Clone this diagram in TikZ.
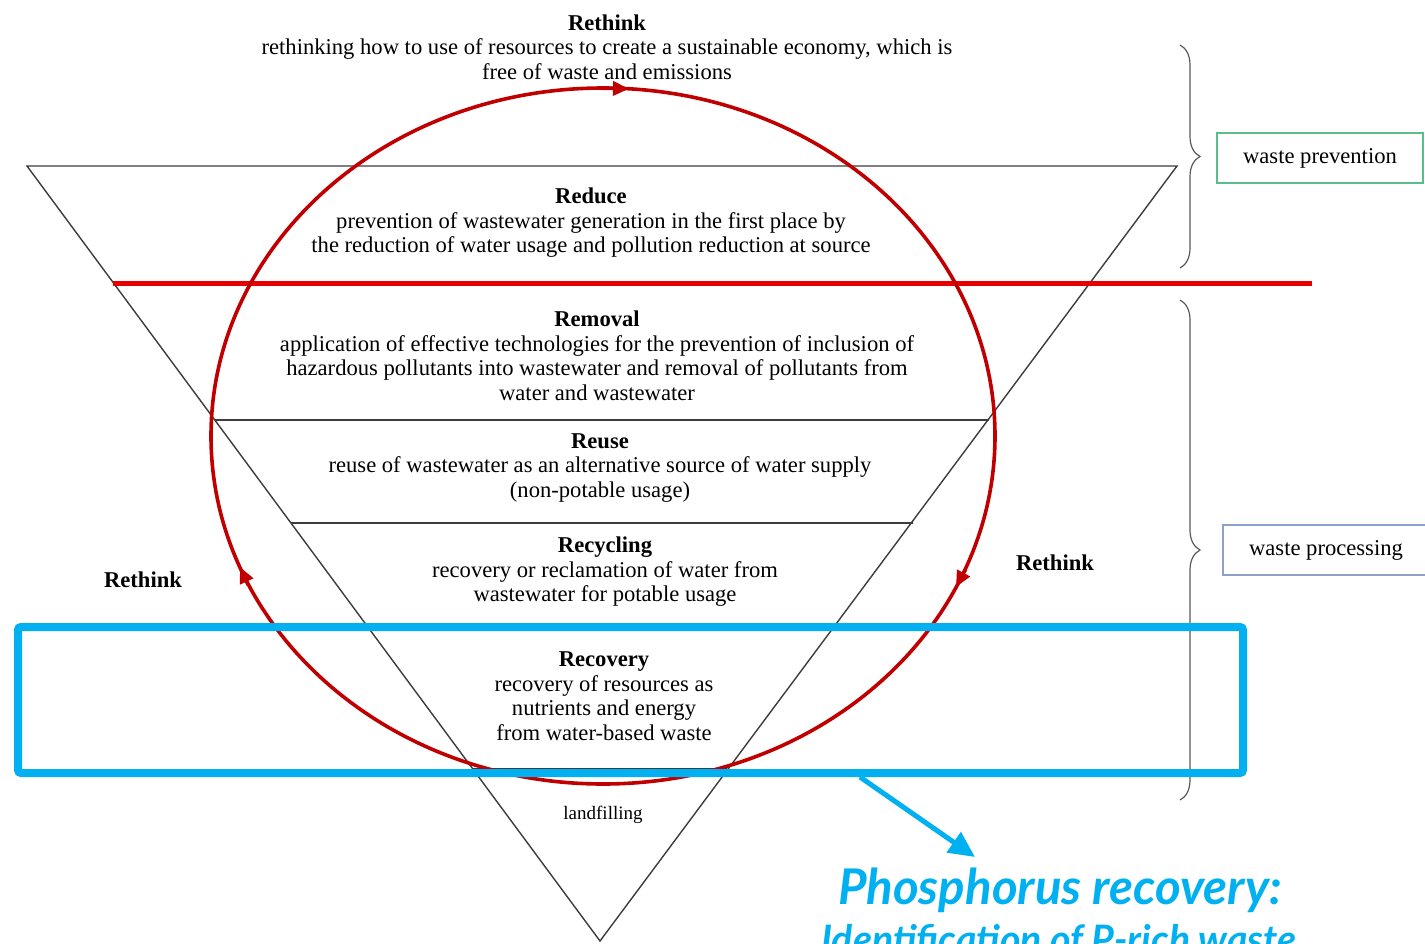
\documentclass[tikz,border=0pt]{standalone}
\usepackage{fontspec}
\setmainfont{Liberation Serif}
\newfontfamily\bluefont{Lato}
\usetikzlibrary{arrows.meta,decorations.pathreplacing,calc}
\definecolor{cyanb}{RGB}{0,176,240}
\definecolor{darkred}{RGB}{192,0,0}
\definecolor{brightred}{RGB}{232,0,0}
\definecolor{tricol}{RGB}{60,60,60}
\definecolor{greenbox}{RGB}{90,190,140}
\definecolor{bluegray}{RGB}{140,160,200}
\begin{document}
\begin{tikzpicture}[x=0.5pt,y=-0.5pt,
  tri/.style={draw=tricol,line width=0.7pt},
  txt/.style={font=\fontsize{11.3}{12.25}\selectfont,align=center,inner sep=0pt},
  redcirc/.style={draw=darkred,line width=1.8pt},
  redtip/.style={draw=darkred,line width=1.8pt,-{Triangle[length=8pt,width=7pt]}},
  redline/.style={draw=brightred,line width=2.5pt},
  bluebox/.style={draw=cyanb,line width=4pt,rounded corners=1.5pt,inner sep=0pt},
  bluearrow/.style={draw=cyanb,line width=2.5pt,-{Triangle[length=13pt,width=12pt]}},
  bracestyle/.style={draw=black!65,line width=0.6pt,decorate,decoration={brace,amplitude=10pt}},
  sidebox/.style={font=\fontsize{11.3}{12.25}\selectfont,inner sep=0pt,line width=0.7pt}
]
\useasboundingbox (0,0) rectangle (1425,943);
% triangle
\coordinate (TL) at (27,166);
\coordinate (TR) at (1177,166);
\coordinate (AP) at (600,941);
\draw[tri] (TL) -- (TR) -- (AP) -- cycle;
\draw[tri] (215,420) -- (989,420);
\draw[tri] (291,523) -- (913,523);
\draw[tri] (370,630) -- (831,630);
\draw[tri] (473,769) -- (727,769);
% texts
\node[txt] (rethinkT) at (607,47) {\textbf{Rethink}\\rethinking how to use of resources to create a sustainable economy, which is\\free of waste and emissions};
\node[txt] (reduce) at (591,223) {\textbf{Reduce}\\prevention of wastewater generation in the first place by\\the reduction of water usage and pollution reduction at source};
\node[txt] (removal) at (597,356) {\textbf{Removal}\\application of effective technologies for the prevention of inclusion of\\hazardous pollutants into wastewater and removal of pollutants from\\water and wastewater};
\node[txt] (reuse) at (600,468) {\textbf{Reuse}\\reuse of wastewater as an alternative source of water supply\\(non-potable usage)};
\node[txt] (recycling) at (605,572) {\textbf{Recycling}\\recovery or reclamation of water from\\wastewater for potable usage};
\node[txt] (recovery) at (604,696) {\textbf{Recovery}\\recovery of resources as\\nutrients and energy\\from water-based waste};
\node[txt,font=\fontsize{9.5}{11}\selectfont] (landfill) at (603,815) {landfilling};
\node[txt] (rethinkL) at (143,580) {\textbf{Rethink}};
\node[txt] (rethinkR) at (1055,563) {\textbf{Rethink}};
% red line
\draw[redline] (113,283) -- (1312,283);
% red cycle
\node[draw=none,inner sep=0pt] (cyc) at (603,436) {};
\draw[redcirc] (cyc) ellipse [x radius=392, y radius=348];
\coordinate (tA1) at (597,88.1);
\coordinate (tA2) at (629,88.8);
\draw[redtip] (tA1) -- (tA2);
\coordinate (tB1) at (965.5,569.4);
\coordinate (tB2) at (956,587);
\draw[redtip] (tB1) -- (tB2);
\coordinate (tC1) at (248.4,585.2);
\coordinate (tC2) at (240,567);
\draw[redtip] (tC1) -- (tC2);
% braces
\draw[bracestyle] (1180,45) -- (1180,268);
\draw[bracestyle] (1180,300) -- (1180,800);
\node[sidebox,draw=greenbox,minimum width=103pt,minimum height=25pt] (prev) at (1320,158) {waste prevention};
\node[sidebox,draw=bluegray,minimum width=103pt,minimum height=25pt] (proc) at (1326,550) {waste processing};
% blue highlight
\node[bluebox,minimum width=612.5pt,minimum height=73pt] (recbox) at (630.5,700) {};
\node[inner sep=0pt,text=cyanb,font=\bluefont\bfseries\itshape\fontsize{24.6}{24.6}\selectfont,anchor=base] (phos) at (1060,904) {Phosphorus recovery:};
\node[inner sep=0pt,text=cyanb,font=\bluefont\bfseries\itshape\fontsize{19.6}{19.6}\selectfont,anchor=base] (ident) at (1059,953) {Identification of P-rich waste};
\coordinate (arrS) at (recbox.south -| 860,0);
\coordinate (arrE) at (975,857);
\draw[bluearrow] (arrS) -- (arrE);
\end{tikzpicture}
\end{document}
